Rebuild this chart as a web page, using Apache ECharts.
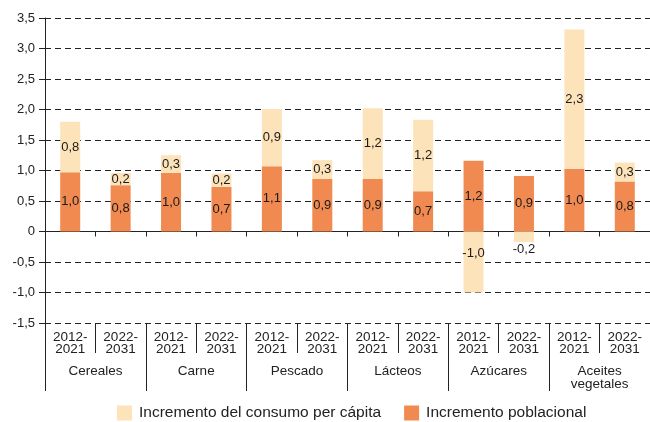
<!DOCTYPE html>
<html>
<head>
<meta charset="utf-8">
<script src="https://cdn.jsdelivr.net/npm/echarts@6/dist/echarts.min.js"></script>
<style>
  html, body { margin: 0; padding: 0; background: #fff; }
  #chart { width: 650px; height: 422px; }
</style>
</head>
<body>
<div id="chart"></div>
<script>
// Periods shown under each bar, grouped by food type
const periods = ['2012-\n2021', '2022-\n2031', '2012-\n2021', '2022-\n2031', '2012-\n2021', '2022-\n2031',
                 '2012-\n2021', '2022-\n2031', '2012-\n2021', '2022-\n2031', '2012-\n2021', '2022-\n2031'];
const groups = ['Cereales', 'Carne', 'Pescado', 'Lácteos', 'Azúcares', 'Aceites\nvegetales'];

// Contribution of population growth (bottom of the stack)
const poblacional = [0.97, 0.76, 0.96, 0.73, 1.07, 0.86, 0.86, 0.66, 1.16, 0.91, 1.03, 0.82];
// Contribution of per-capita consumption growth (stacked on top, or below zero)
const consumo = [0.83, 0.20, 0.29, 0.22, 0.94, 0.31, 1.16, 1.17, -1.00, -0.17, 2.28, 0.31];

const yTicks = { min: -1.5, max: 3.5, step: 0.5 };

const serieConsumo = 'Incremento del consumo per cápita';
const seriePoblacion = 'Incremento poblacional';

const FONT = "'Liberation Sans', Arial, sans-serif";
const INK = '#222';
const fmt = v => Number(v).toFixed(1).replace('.', ',');

const chart = echarts.init(document.getElementById('chart'), null, { renderer: 'canvas' });

const labelBase = { show: true, position: 'inside', color: '#1a1a1a', fontSize: 13, fontFamily: FONT,
                    formatter: p => fmt(p.value) };

const consumoData = consumo.map((v, i) => {
  if (v < 0 && Math.abs(v) < 0.5) return { value: v, label: { position: 'bottom', distance: 1 } };
  if (v < 0) return { value: v, label: { position: 'insideTop', distance: 15 } };
  return v;
});

chart.setOption({
  animation: false,
  textStyle: { fontFamily: FONT },
  grid: { left: 45, top: 18, width: 613, height: 305, containLabel: false },
  legend: {
    data: [serieConsumo, seriePoblacion],
    left: 117, top: 405, padding: 0,
    itemWidth: 15, itemHeight: 15, itemGap: 23,
    icon: 'rect',
    textStyle: { fontSize: 15.5, color: INK, fontFamily: FONT, padding: [0, 0, 0, 2] }
  },
  xAxis: [
    {
      // zero line with short ticks between bars
      type: 'category', data: periods, gridIndex: 0,
      axisLine: { show: true, onZero: true, lineStyle: { color: INK, width: 1 } },
      axisTick: { show: true, length: 5, interval: 0, lineStyle: { color: INK } },
      axisLabel: { show: false },
      splitLine: { show: false }
    },
    {
      // period labels with short separators
      type: 'category', data: periods, gridIndex: 0, position: 'bottom',
      axisLine: { show: false, onZero: false },
      axisTick: { show: true, length: 30, interval: 0, lineStyle: { color: INK } },
      axisLabel: { show: true, interval: 0, margin: 8, fontSize: 13.5, lineHeight: 12.5, color: INK,
                   fontFamily: "'Liberation Sans Narrow', 'Arial Narrow', 'Liberation Sans', sans-serif" },
      splitLine: { show: false }
    },
    {
      // food group labels with long separators
      type: 'category', data: groups, gridIndex: 0, position: 'bottom',
      axisLine: { show: false, onZero: false },
      axisTick: { show: true, length: 68, interval: 0, lineStyle: { color: INK } },
      axisLabel: { show: true, interval: 0, margin: 42, fontSize: 13.5, lineHeight: 13, color: INK, fontFamily: FONT },
      splitLine: { show: false }
    }
  ],
  yAxis: {
    type: 'value', min: yTicks.min, max: yTicks.max, interval: yTicks.step,
    axisLine: { show: true, lineStyle: { color: INK, width: 1 } },
    axisTick: { show: true, length: 6, lineStyle: { color: INK } },
    axisLabel: { margin: 10, fontSize: 13, color: INK, fontFamily: FONT,
                 formatter: v => (v === 0 ? '0' : fmt(v)) },
    splitLine: { show: true, lineStyle: { color: '#222', type: [6, 4], width: 1 } }
  },
  series: [
    {
      name: seriePoblacion, type: 'bar', stack: 'total', xAxisIndex: 0,
      barWidth: 20, data: poblacional,
      itemStyle: { color: '#F08A50' },
      label: labelBase
    },
    {
      name: serieConsumo, type: 'bar', stack: 'total', xAxisIndex: 0,
      barWidth: 20, data: consumoData,
      itemStyle: { color: '#FDE3BA' },
      label: labelBase
    }
  ]
});
</script>
</body>
</html>
